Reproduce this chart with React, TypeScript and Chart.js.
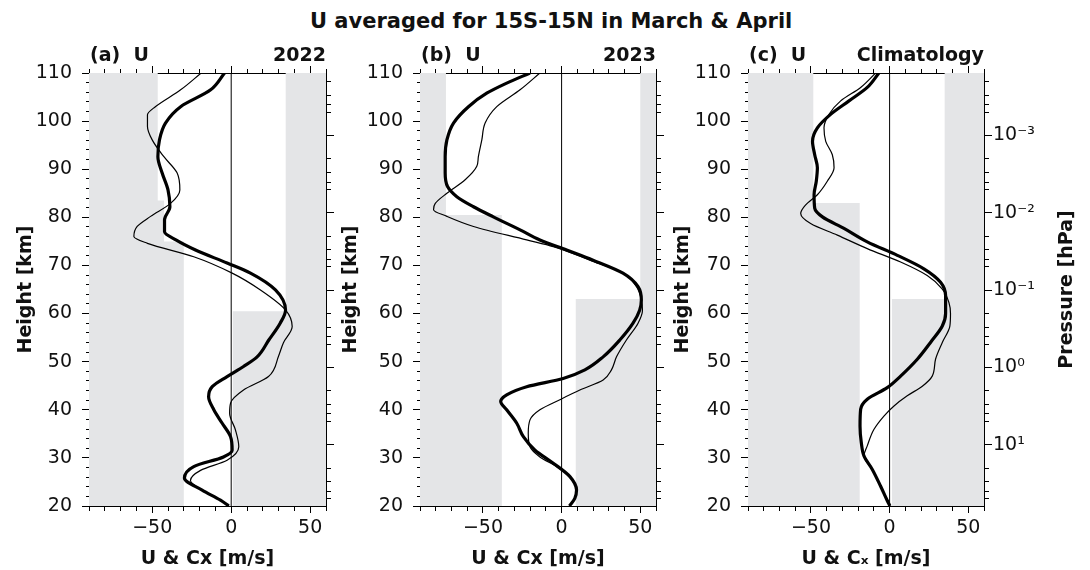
import React, { useEffect, useRef } from "react";
import { Chart, registerables } from "chart.js";

Chart.register(...registerables);

const FONT = '"DejaVu Sans", "Liberation Sans", Arial, sans-serif';
const INK = "#111111";
const SHADE = "#e4e5e7";

const FIG_TITLE = "U averaged for 15S-15N in March & April";

// ---------- axis ranges / ticks ----------
const U_MIN = -90;
const U_MAX = 60;
const Z_MIN = 20;
const Z_MAX = 110;
const uTicks = [-90, -80, -70, -60, -50, -40, -30, -20, -10, 0, 10, 20, 30, 40, 50, 60];
const uLabelTicks = [-50, 0, 50];
const heightTicks = [20, 22, 24, 26, 28, 30, 32, 34, 36, 38, 40, 42, 44, 46, 48, 50, 52, 54, 56, 58, 60, 62, 64, 66, 68, 70, 72, 74, 76, 78, 80, 82, 84, 86, 88, 90, 92, 94, 96, 98, 100, 102, 104, 106, 108, 110];
const heightLabelTicks = [20, 30, 40, 50, 60, 70, 80, 90, 100, 110];
const pressureMajor = [0.001, 0.01, 0.1, 1, 10];
const pressureMajorLabels = ["10\u207B\u00B3", "10\u207B\u00B2", "10\u207B\u00B9", "10\u2070", "10\u00B9"];
const pressureMinor = [2e-4, 3e-4, 4e-4, 5e-4, 2e-3, 3e-3, 4e-3, 5e-3, 2e-2, 3e-2, 4e-2, 5e-2, 0.2, 0.3, 0.4, 0.5, 2, 3, 4, 5, 20, 30, 40, 50];
const Z_AT_1HPA = 48.8;
const KM_PER_DECADE = 16.07;

// ---------- panel (a) 2022 ----------
const zThickA = [20, 21.2, 23.3, 25.8, 28.2, 30.2, 31.6, 34.4, 37.2, 40, 42.7, 44.8, 46.9, 49, 51, 54.5, 58, 60.7, 64.9, 68.4, 70.5, 73.2, 75.3, 77, 79.5, 82.2, 85.7, 89.2, 92.6, 96.1, 99.6, 103, 106.5, 110];
const uThickA = [-1.5, -6.8, -18.4, -29.6, -23.7, -4.9, 0.6, -0.4, -5.7, -11, -14.3, -12, -2.6, 7.8, 16.4, 23.8, 31, 34.4, 28, 12.2, -2.6, -22.6, -35, -42.2, -42.2, -38.8, -40, -43.7, -46.4, -45.4, -41.6, -32, -13, -4.2];
const zThinA = [20, 21.2, 23.3, 25.3, 27.4, 29.5, 32.3, 35.8, 39.3, 41.4, 44.1, 46.9, 51.2, 53.9, 57.3, 60.7, 64.9, 68.4, 71.8, 74.6, 76, 78.1, 80.2, 82.9, 85.7, 89.2, 92.6, 96.1, 98.9, 101.3, 103, 106.5, 110];
const uThinA = [-1.5, -6.8, -18.4, -25.8, -19.4, -2.6, 4.8, 2.7, -1, -0.4, 7.8, 23.6, 30, 33, 38.6, 34.5, 18.5, 0.6, -23.7, -53, -61.6, -59.5, -51, -38.4, -32.5, -34.2, -42.6, -50, -53, -53, -48, -32, -19];
const shadeLeftZA = [20, 75, 83.5, 110];
const shadeLeftCA = [-30, -42.5, -46.5];
const shadeRightZA = [20, 60.5, 110];
const shadeRightCA = [1, 34.5];

// ---------- panel (b) 2023 ----------
const zThickB = [20, 21.6, 23.3, 26.1, 28.9, 31.6, 34.4, 37.2, 40, 41.7, 43.1, 44.8, 46.5, 48.3, 51, 54.5, 58, 60.7, 62.8, 65.6, 68.4, 71.1, 73.2, 75.3, 77.4, 80.1, 82.2, 84.3, 86.4, 89.2, 92.6, 96.1, 99.6, 103, 105.8, 107.9, 110];
const uThickB = [5, 8.4, 9.5, 5.3, -5.3, -16.9, -24.3, -28.5, -34.9, -38.7, -34.9, -22.2, 1, 14.8, 26.4, 37, 45.4, 49.6, 50.7, 48.6, 39, 20, 3.2, -13.8, -26.4, -43.4, -56, -66.6, -72.5, -74, -74, -72.9, -68.7, -59.2, -47.6, -34.9, -20.1];
const zThinB = [20, 21.6, 23.3, 26.1, 28.2, 30.2, 32.3, 35.1, 37.9, 40, 42.1, 44.1, 46.2, 48.3, 51, 54.5, 58, 60.7, 62.8, 65.6, 68.4, 71.1, 73.9, 75.3, 78.1, 80.2, 81.6, 82.9, 85, 87.8, 90.6, 92.6, 96.1, 99.6, 103, 106.5, 110];
const uThinB = [5, 8.4, 9.5, 5.3, -3.2, -13.8, -20.1, -21.2, -20.1, -13.8, -1.1, 11.6, 26.4, 31.7, 34.9, 41.2, 48.6, 51.4, 50.7, 47.6, 39, 17.9, -5.3, -22.2, -56, -72.9, -81.4, -80.3, -72.9, -61.3, -53.9, -52.9, -50.7, -48.6, -41.2, -26.4, -13.8];
const shadeLeftZB = [20, 80.5, 110];
const shadeLeftCB = [-38, -73.5];
const shadeRightZB = [20, 63, 110];
const shadeRightCB = [9, 50];

// ---------- panel (c) climatology ----------
const zThickC = [20, 21.4, 24.1, 27.6, 30.4, 33.2, 36.6, 40.1, 42.2, 44.6, 47, 50.5, 54, 57.4, 60, 63.7, 66.5, 69.3, 72.1, 74.9, 77.7, 80.1, 81.9, 84.7, 87.5, 90.3, 93, 95.8, 98.6, 101.4, 104.2, 107, 110];
const uThickC = [0.2, -1.9, -5.7, -11, -16.3, -18, -18.8, -18.4, -14.2, -1.5, 7, 17.6, 26, 33.5, 35.6, 35.6, 32.4, 21.8, 4.9, -14.2, -29, -42.7, -47.6, -48, -46.6, -45.9, -47.6, -49, -45.9, -37.5, -25.8, -14.2, -6.8];
const zThinC = [20, 21.4, 24.1, 27.6, 30.4, 32.5, 35.9, 38.7, 40.8, 42.9, 44.9, 47, 50.5, 54, 57.4, 60, 62.3, 65.1, 67.9, 70.7, 73.5, 76.3, 78.7, 80.8, 82.6, 84.7, 87.5, 90.3, 93, 95.8, 98.6, 101.4, 104.2, 107, 110];
const uThinC = [0.2, -1.9, -5.7, -11, -16.3, -14.2, -10, -3.6, 2.8, 11.2, 20.8, 27.1, 29.2, 33.5, 38.3, 38.7, 37.7, 33.5, 23.9, 7, -14.2, -33.2, -50.2, -56.5, -53.3, -45.9, -39.6, -35.3, -36.4, -40.6, -41.7, -38.5, -31.1, -18.4, -8.9];
const shadeLeftZC = [20, 83, 110];
const shadeLeftCC = [-19, -48.5];
const shadeRightZC = [20, 63, 110];
const shadeRightCC = [1.5, 35];

// ---------- layout ----------
const CANVAS_H = 570;
const AREA_TOP = 73;
const AREA_BOTTOM = 506;

type Panel = {
  left: number;
  width: number;
  areaLeft: number;
  areaRight: number;
  tag: string;
  label: string;
  xTitle: string;
  yTitlePad: number;
  thick: [number[], number[]];
  thin: [number[], number[]];
  shadeL: [number[], number[]];
  shadeR: [number[], number[]];
  pressureLabels: boolean;
};

const PANELS: Panel[] = [
  {
    left: 0, width: 340, areaLeft: 89, areaRight: 326,
    tag: "(a)  U", label: "2022", xTitle: "U & Cx [m/s]", yTitlePad: 15,
    thick: [zThickA, uThickA], thin: [zThinA, uThinA],
    shadeL: [shadeLeftZA, shadeLeftCA], shadeR: [shadeRightZA, shadeRightCA],
    pressureLabels: false,
  },
  {
    left: 340, width: 330, areaLeft: 80, areaRight: 316,
    tag: "(b)  U", label: "2023", xTitle: "U & Cx [m/s]", yTitlePad: 0,
    thick: [zThickB, uThickB], thin: [zThinB, uThinB],
    shadeL: [shadeLeftZB, shadeLeftCB], shadeR: [shadeRightZB, shadeRightCB],
    pressureLabels: false,
  },
  {
    left: 670, width: 420, areaLeft: 78, areaRight: 314,
    tag: "(c)  U", label: "Climatology", xTitle: "U & C\u2093 [m/s]", yTitlePad: 2,
    thick: [zThickC, uThickC], thin: [zThinC, uThinC],
    shadeL: [shadeLeftZC, shadeLeftCC], shadeR: [shadeRightZC, shadeRightCC],
    pressureLabels: true,
  },
];

const zOfP = (p: number) => Z_AT_1HPA - KM_PER_DECADE * Math.log10(p);

const profile = (zs: number[], us: number[]) => zs.map((z, i) => ({ x: us[i], y: z }));
const steps = (zs: number[], cs: number[]) => {
  const pts: { x: number; y: number }[] = [];
  cs.forEach((c, i) => {
    pts.push({ x: c, y: zs[i] });
    pts.push({ x: c, y: zs[i + 1] });
  });
  return pts;
};

const panelText = {
  id: "panelText",
  afterDraw(chart: any, _args: any, opts: any) {
    const { ctx, chartArea } = chart;
    ctx.save();
    ctx.fillStyle = INK;
    ctx.font = `bold 19px ${FONT}`;
    ctx.textBaseline = "alphabetic";
    ctx.textAlign = "left";
    ctx.fillText(opts.tag, chartArea.left + 1, 61);
    ctx.textAlign = "right";
    ctx.fillText(opts.label, chartArea.right, 61);
    if (opts.rightTitle) {
      ctx.translate(chartArea.right + 83, (chartArea.top + chartArea.bottom) / 2);
      ctx.rotate(-Math.PI / 2);
      ctx.textAlign = "center";
      ctx.textBaseline = "middle";
      ctx.fillText(opts.rightTitle, 0, 0);
    }
    ctx.restore();
  },
};

function makeConfig(pn: Panel): any {
  const tickFont = { family: FONT, size: 19 };
  const titleFont = { family: FONT, size: 19, weight: "bold" as const, lineHeight: 1.2 };
  const uTickObjs = () => uTicks.map((v) => ({ value: v }));
  const isULabel = (v: number) => uLabelTicks.includes(v);
  const isZLabel = (v: number) => heightLabelTicks.includes(v);
  return {
    type: "line",
    data: {
      datasets: [
        {
          data: profile(pn.thick[0], pn.thick[1]),
          borderColor: "#000", borderWidth: 3.2, pointRadius: 0,
          cubicInterpolationMode: "monotone", fill: false,
          xAxisID: "x", yAxisID: "y",
        },
        {
          data: profile(pn.thin[0], pn.thin[1]),
          borderColor: "#000", borderWidth: 1.2, pointRadius: 0,
          cubicInterpolationMode: "monotone", fill: false,
          xAxisID: "x", yAxisID: "y",
        },
        {
          data: [{ x: 0, y: Z_MIN }, { x: 0, y: Z_MAX }],
          borderColor: "#000", borderWidth: 1, pointRadius: 0, fill: false,
          xAxisID: "x", yAxisID: "y",
        },
        {
          data: steps(pn.shadeL[0], pn.shadeL[1]),
          borderColor: "rgba(0,0,0,0)", borderWidth: 0, pointRadius: 0,
          backgroundColor: SHADE, fill: { value: U_MIN },
          xAxisID: "x", yAxisID: "y",
        },
        {
          data: steps(pn.shadeR[0], pn.shadeR[1]),
          borderColor: "rgba(0,0,0,0)", borderWidth: 0, pointRadius: 0,
          backgroundColor: SHADE, fill: { value: U_MAX },
          xAxisID: "x", yAxisID: "y",
        },
      ],
    },
    options: {
      responsive: false,
      animation: false,
      events: [],
      indexAxis: "y",
      layout: { padding: 0 },
      plugins: {
        legend: { display: false },
        tooltip: { enabled: false },
        title: { display: false },
        panelText: {
          tag: pn.tag,
          label: pn.label,
          rightTitle: pn.pressureLabels ? "Pressure [hPa]" : "",
        },
      },
      scales: {
        x: {
          type: "linear", position: "bottom", min: U_MIN, max: U_MAX,
          afterBuildTicks: (s: any) => { s.ticks = uTickObjs(); },
          afterFit: (s: any) => { s.height = CANVAS_H - AREA_BOTTOM; },
          ticks: {
            autoSkip: false, maxRotation: 0, padding: 4, color: INK, font: tickFont,
            callback: (v: number) => (isULabel(v) ? (v < 0 ? "\u2212" + Math.abs(v) : String(v)) : ""),
          },
          grid: {
            drawOnChartArea: false, tickLength: 7, tickColor: "#000", tickWidth: 1,
            tickBorderDash: (c: any) => (c.tick && isULabel(c.tick.value) ? [] : [4, 100]),
          },
          border: { color: "#000", width: 1 },
          title: { display: true, text: pn.xTitle, color: INK, font: titleFont, padding: { top: 0, bottom: 0 } },
        },
        xTop: {
          type: "linear", position: "top", min: U_MIN, max: U_MAX,
          afterBuildTicks: (s: any) => { s.ticks = uTickObjs(); },
          afterFit: (s: any) => { s.height = AREA_TOP; },
          ticks: { display: false },
          grid: {
            drawOnChartArea: false, tickLength: 7, tickColor: "#000", tickWidth: 1,
            tickBorderDash: (c: any) => (c.tick && isULabel(c.tick.value) ? [] : [0, 3, 4, 100]),
          },
          border: { color: "#000", width: 1 },
        },
        y: {
          type: "linear", position: "left", min: Z_MIN, max: Z_MAX,
          afterBuildTicks: (s: any) => { s.ticks = heightTicks.map((v) => ({ value: v })); },
          afterFit: (s: any) => { s.width = pn.areaLeft; },
          ticks: {
            autoSkip: false, padding: 10, color: INK, font: tickFont,
            callback: (v: number) => (isZLabel(v) ? String(v) : ""),
          },
          grid: {
            drawOnChartArea: false, tickLength: 7, tickColor: "#000", tickWidth: 1,
            tickBorderDash: (c: any) => (c.tick && isZLabel(c.tick.value) ? [] : [0, 4, 3, 100]),
          },
          border: { color: "#000", width: 1 },
          title: { display: true, text: "Height [km]", color: INK, font: titleFont, padding: { top: pn.yTitlePad, bottom: 0 } },
        },
        yR: {
          type: "linear", position: "right", min: Z_MIN, max: Z_MAX,
          afterBuildTicks: (s: any) => {
            const major = pressureMajor.map((p, i) => ({ value: zOfP(p), isMajor: true, lbl: pressureMajorLabels[i] }));
            const minor = pressureMinor
              .map((p) => ({ value: zOfP(p), isMajor: false, lbl: "" }))
              .filter((t) => t.value >= Z_MIN && t.value <= Z_MAX);
            s.ticks = [...major, ...minor].sort((a, b) => a.value - b.value);
          },
          afterFit: (s: any) => { s.width = pn.width - pn.areaRight; },
          ticks: {
            display: pn.pressureLabels, autoSkip: false, padding: 1, color: INK, font: tickFont,
            callback: (_v: number, i: number, ticks: any[]) => (ticks[i] && ticks[i].isMajor ? ticks[i].lbl : ""),
          },
          grid: {
            drawOnChartArea: false, tickLength: 8, tickColor: "#000", tickWidth: 1,
            tickBorderDash: (c: any) => (c.tick && c.tick.isMajor ? [] : [4, 100]),
          },
          border: { color: "#000", width: 1 },
        },
      },
    },
    plugins: [panelText],
  };
}

function PanelChart({ pn }: { pn: Panel }) {
  const ref = useRef<HTMLCanvasElement | null>(null);
  useEffect(() => {
    if (!ref.current) return;
    const chart = new Chart(ref.current, makeConfig(pn));
    return () => chart.destroy();
  }, [pn]);
  return (
    <canvas
      ref={ref}
      width={pn.width}
      height={CANVAS_H}
      style={{ position: "absolute", left: pn.left, top: 0, width: pn.width, height: CANVAS_H }}
    />
  );
}

export default function App() {
  return (
    <div style={{ position: "absolute", left: 0, top: 0, width: 1090, height: 570, background: "#fff", overflow: "hidden" }}>
      <div
        style={{
          position: "absolute", left: 310, top: 10, whiteSpace: "nowrap",
          font: `bold 21px ${FONT}`, lineHeight: "22px", color: INK,
        }}
      >
        {FIG_TITLE}
      </div>
      {PANELS.map((pn, i) => (
        <PanelChart key={i} pn={pn} />
      ))}
    </div>
  );
}
